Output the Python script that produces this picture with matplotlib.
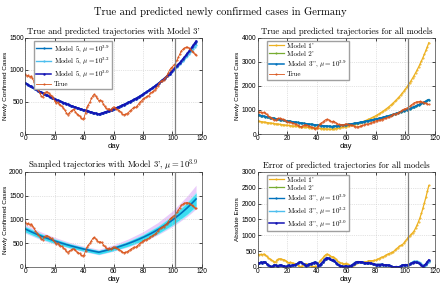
import numpy as np
import matplotlib.pyplot as plt

plt.rcParams['font.family'] = 'Liberation Sans'
plt.rcParams['mathtext.fontset'] = 'cm'
plt.rcParams['axes.formatter.use_mathtext'] = False

# ---------------- data ----------------
days = np.arange(117)

true_cases = [935, 905, 915, 890, 905, 870, 815, 760, 720, 680,
              640, 590, 575, 640, 655, 660, 640, 615, 600, 560,
              520, 480, 495, 470, 450, 430, 405, 370, 330, 300,
              330, 355, 370, 385, 350, 320, 300, 285, 250, 230,
              255, 330, 420, 460, 500, 555, 600, 620, 590, 555,
              520, 530, 515, 470, 430, 400, 385, 395, 380, 400,
              425, 410, 390, 380, 365, 340, 310, 300, 305, 320,
              335, 360, 380, 400, 420, 415, 440, 470, 500, 520,
              550, 560, 575, 590, 600, 640, 650, 665, 690, 720,
              750, 790, 820, 835, 850, 880, 905, 950, 1000, 1030,
              1050, 1080, 1100, 1150, 1200, 1250, 1300, 1320, 1340, 1350,
              1355, 1345, 1325, 1300, 1280, 1250, 1230]

model3 = [800, 785, 770, 756, 742, 728, 714, 701, 687, 675,
          662, 649, 637, 625, 614, 602, 591, 580, 569, 558,
          548, 537, 527, 517, 508, 498, 489, 480, 471, 462,
          453, 445, 436, 428, 420, 412, 404, 397, 389, 382,
          375, 368, 361, 354, 348, 341, 335, 328, 322, 316,
          310, 317, 325, 332, 340, 348, 356, 365, 373, 382,
          391, 400, 409, 419, 429, 439, 449, 460, 470, 481,
          493, 504, 516, 528, 541, 553, 566, 579, 593, 607,
          621, 636, 651, 666, 681, 697, 714, 730, 748, 765,
          783, 801, 820, 839, 859, 879, 900, 921, 942, 965,
          987, 1010, 1034, 1058, 1083, 1108, 1134, 1161, 1188, 1216,
          1244, 1274, 1303, 1334, 1365, 1397, 1430]

model3_mu32 = model3[:100] + [985, 1006, 1028, 1050, 1073, 1096, 1120, 1144, 1169,
                              1195, 1221, 1248, 1275, 1303, 1332, 1361, 1390]
model3_mu30 = model3[:100] + [990, 1014, 1038, 1063, 1089, 1115, 1142, 1170, 1198,
                              1227, 1257, 1288, 1319, 1351, 1384, 1417, 1450]

model1 = [540, 529, 519, 509, 499, 489, 479, 470, 461, 452,
          443, 434, 426, 417, 409, 401, 393, 385, 378, 370,
          363, 356, 349, 342, 335, 329, 322, 316, 310, 304,
          298, 292, 286, 280, 275, 270, 264, 259, 254, 249,
          244, 239, 235, 230, 225, 221, 217, 212, 208, 204,
          200, 209, 219, 229, 239, 250, 261, 273, 286, 299,
          313, 327, 342, 357, 374, 391, 408, 427, 447, 467,
          488, 511, 534, 558, 584, 610, 638, 667, 698, 729,
          763, 798, 834, 872, 912, 953, 997, 1042, 1090, 1140,
          1192, 1246, 1303, 1362, 1424, 1489, 1557, 1628, 1703, 1780,
          1862, 1946, 2035, 2128, 2225, 2327, 2433, 2544, 2660, 2781,
          2908, 3041, 3180, 3325, 3476, 3635, 3801]

model2 = model3

# spread of the sampled trajectories around Model 3'
band_days = [0, 10, 20, 30, 40, 50, 60, 70, 80, 90, 100, 110, 116]
band_inner = [60, 55, 50, 45, 42, 42, 48, 55, 65, 80, 100, 130, 150]
band_up = [95, 85, 75, 65, 60, 60, 75, 95, 120, 150, 190, 250, 290]
band_lo = [90, 80, 70, 60, 55, 55, 62, 72, 90, 110, 140, 180, 210]

split_day = 102

C_BLUE = '#0072BD'
C_LBLUE = '#4DBEEE'
C_DBLUE = '#1414B4'
C_ORANGE = '#D95319'
C_YELLOW = '#EDB120'
C_GREEN = '#77AC30'

true_cases = np.array(true_cases)
err1 = np.abs(true_cases - np.array(model1))
err2 = np.abs(true_cases - np.array(model2))
err39 = np.abs(true_cases - np.array(model3))
err32 = np.abs(true_cases - np.array(model3_mu32))
err30 = np.abs(true_cases - np.array(model3_mu30))

# ---------------- figure ----------------
fig = plt.figure(figsize=(4.4, 2.87), dpi=100)
ax_tl = fig.add_axes([0.057, 0.533, 0.402, 0.335])
ax_tr = fig.add_axes([0.586, 0.533, 0.402, 0.335])
ax_bl = fig.add_axes([0.057, 0.070, 0.402, 0.331])
ax_br = fig.add_axes([0.586, 0.070, 0.402, 0.331])

fig.suptitle('True and predicted newly confirmed cases in Germany',
             family='cmr10', fontsize=7.6, y=0.975)

title_kw = dict(family='cmr10', fontsize=6.2, pad=3)
leg_kw = dict(loc='upper left', prop={'family': 'cmr10', 'size': 5.0},
              handlelength=2.2, borderpad=0.3, labelspacing=0.3,
              handletextpad=0.4, fancybox=False, edgecolor='#a0a0a0',
              framealpha=1, bbox_to_anchor=(0.05, 0.97), borderaxespad=0)
mu = lambda e: r', $\mu = 10^{%s}$' % e


def style(ax, ymax, ystep, ylabel):
    ax.set_xlim(0, 120)
    ax.set_ylim(0, ymax)
    ax.set_xticks(np.arange(0, 121, 20))
    ax.set_yticks(np.arange(0, ymax + 1, ystep))
    ax.tick_params(labelsize=4.8, length=2, width=0.5, direction='in', pad=1,
                   top=True, right=True)
    ax.grid(True, linestyle=':', linewidth=0.5, color='#c8c8c8')
    for s in ax.spines.values():
        s.set_linewidth(0.5)
        s.set_color('#404040')
    ax.set_xlabel('day', fontsize=5.5, labelpad=0.5)
    ax.set_ylabel(ylabel, fontsize=4.6, labelpad=1)
    ax.axvline(split_day, color='#808080', lw=0.9, zorder=5)


# top left
ax = ax_tl
ax.plot(days, model3, '.-', color=C_BLUE, lw=1.0, ms=1.2, label='Model 5' + mu('3.9'))
ax.plot(days, model3_mu32, '.-', color=C_LBLUE, lw=1.0, ms=1.2, label='Model 5' + mu('3.2'))
ax.plot(days, model3_mu30, '.-', color=C_DBLUE, lw=1.1, ms=1.5, label='Model 5' + mu('3.0'))
ax.plot(days, true_cases, '.-', color=C_ORANGE, lw=0.6, ms=1.0, label='True')
style(ax, 1500, 500, 'Newly Confirmed Cases')
ax.set_title("True and predicted trajectories with Model 3'", **title_kw)
ax.legend(**leg_kw)

# top right
ax = ax_tr
ax.plot(days, model1, '.-', color=C_YELLOW, lw=0.9, ms=1.0, label="Model 1'")
ax.plot(days, model2, '.-', color=C_GREEN, lw=0.9, ms=1.0, label="Model 2'")
ax.plot(days, model3, '.-', color=C_BLUE, lw=1.1, ms=1.2, label="Model 3''" + mu('3.9'))
ax.plot(days, true_cases, '.-', color=C_ORANGE, lw=0.6, ms=1.0, label='True')
style(ax, 4000, 1000, 'Newly Confirmed Cases')
ax.set_title('True and predicted trajectories for all models', **title_kw)
ax.legend(**leg_kw)

# bottom left
ax = ax_bl
bc = np.array(model3)[band_days]
ax.fill_between(band_days, bc - np.array(band_lo), bc + np.array(band_up),
                color='#dcaaf8', alpha=0.6, lw=0)
ax.fill_between(band_days, bc - np.array(band_lo) * 0.85, bc + np.array(band_inner),
                color='#9befff', alpha=0.9, lw=0)
ax.fill_between(band_days, bc - np.array(band_inner), bc + np.array(band_inner) * 0.8,
                color='#30dcf0', alpha=0.9, lw=0)
ax.plot(days, model3, '-', color=C_BLUE, lw=1.2)
ax.plot(days, true_cases, '.-', color=C_ORANGE, lw=0.6, ms=1.0)
style(ax, 2000, 500, 'Newly Confirmed Cases')
ax.set_title("Sampled trajectories with Model 3'" + mu('3.9'), **title_kw)

# bottom right
ax = ax_br
ax.plot(days, err1, '.-', color=C_YELLOW, lw=0.9, ms=1.0, label="Model 1'")
ax.plot(days, err2, '.-', color=C_GREEN, lw=0.9, ms=1.0, label="Model 2'")
ax.plot(days, err39, '.-', color=C_BLUE, lw=1.0, ms=1.2, label="Model 3''" + mu('3.9'))
ax.plot(days, err32, '.-', color=C_LBLUE, lw=1.0, ms=1.2, label="Model 3''" + mu('3.2'))
ax.plot(days, err30, '.-', color=C_DBLUE, lw=1.1, ms=1.5, label="Model 3''" + mu('3.0'))
style(ax, 3000, 500, 'Absolute Errors')
ax.set_title('Error of predicted trajectories for all models', **title_kw)
ax.legend(**leg_kw)

fig.savefig('out.png', dpi=100)
